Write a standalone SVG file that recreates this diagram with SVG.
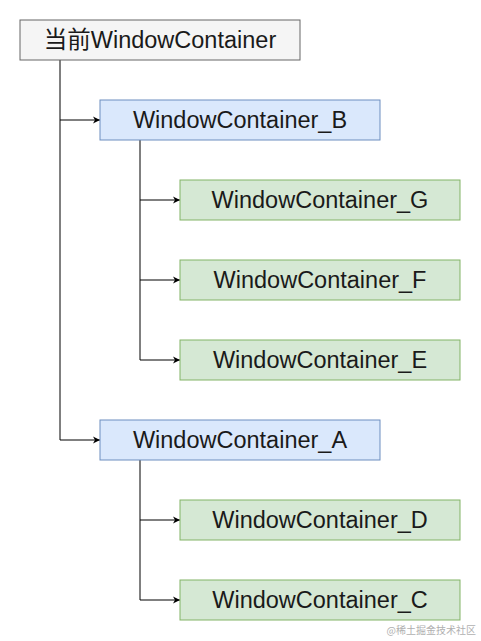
<svg xmlns="http://www.w3.org/2000/svg" width="481" height="641" viewBox="0 0 481 641">
<style>
.t{font-family:"Liberation Sans",Arial,"Noto Sans CJK SC",sans-serif;font-size:23.5px;fill:#1a1a1a;text-anchor:middle;dominant-baseline:central}
.g{fill:#f5f5f5;stroke:#666666}
.b{fill:#dae8fc;stroke:#6c8ebf}
.n{fill:#d5e8d4;stroke:#82b366}
.c{fill:none;stroke:#000;stroke-width:1}
.wm{font-family:"Noto Sans CJK SC",sans-serif;font-size:10px;fill:#b0b0b0;text-anchor:end}
</style>
<defs>
<marker id="ah" markerWidth="10" markerHeight="10" refX="8" refY="5" orient="auto" markerUnits="userSpaceOnUse">
<path d="M1,1.5 L8,5 L1,8.5 L3,5 Z" fill="#000"/>
</marker>
</defs>
<rect width="481" height="641" fill="#fff"/>
<g id="connectors">
<path class="c" d="M60,60 V120 H100" marker-end="url(#ah)"/>
<path class="c" d="M60,120 V440 H100" marker-end="url(#ah)"/>
<path class="c" d="M140,140 V200 H180" marker-end="url(#ah)"/>
<path class="c" d="M140,200 V280 H180" marker-end="url(#ah)"/>
<path class="c" d="M140,280 V360 H180" marker-end="url(#ah)"/>
<path class="c" d="M140,460 V520 H180" marker-end="url(#ah)"/>
<path class="c" d="M140,520 V600 H180" marker-end="url(#ah)"/>
</g>
<g id="root"><rect class="g" x="20" y="20" width="280" height="40"/><text class="t" x="160" y="40">当前WindowContainer</text></g>
<g id="nodeB"><rect class="b" x="100" y="100" width="280" height="40"/><text class="t" x="240" y="120">WindowContainer_B</text></g>
<g id="nodeG"><rect class="n" x="180" y="180" width="280" height="40"/><text class="t" x="320" y="200">WindowContainer_G</text></g>
<g id="nodeF"><rect class="n" x="180" y="260" width="280" height="40"/><text class="t" x="320" y="280">WindowContainer_F</text></g>
<g id="nodeE"><rect class="n" x="180" y="340" width="280" height="40"/><text class="t" x="320" y="360">WindowContainer_E</text></g>
<g id="nodeA"><rect class="b" x="100" y="420" width="280" height="40"/><text class="t" x="240" y="440">WindowContainer_A</text></g>
<g id="nodeD"><rect class="n" x="180" y="500" width="280" height="40"/><text class="t" x="320" y="520">WindowContainer_D</text></g>
<g id="nodeC"><rect class="n" x="180" y="580" width="280" height="40"/><text class="t" x="320" y="600">WindowContainer_C</text></g>
<text class="wm" x="476" y="634">@稀土掘金技术社区</text>
</svg>
